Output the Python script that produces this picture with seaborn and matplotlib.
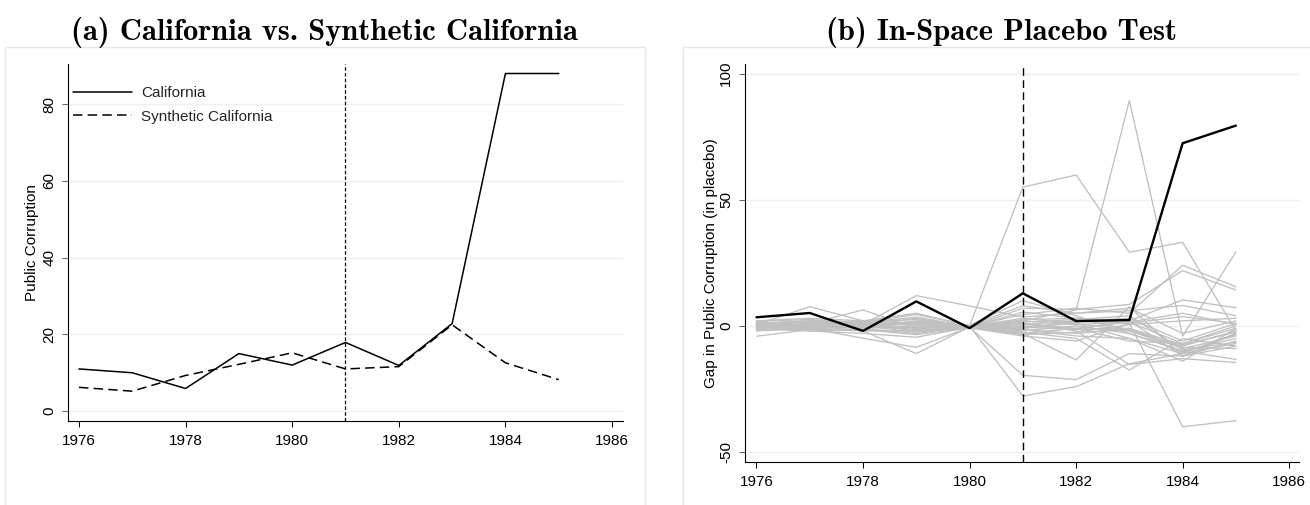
import matplotlib
matplotlib.use("Agg")
import matplotlib.pyplot as plt
import seaborn as sns
import pandas as pd
from matplotlib.patches import Rectangle

# ---------------- data ----------------
years = [1976, 1977, 1978, 1979, 1980, 1981, 1982, 1983, 1984, 1985]
x_ticks = [1976, 1978, 1980, 1982, 1984, 1986]
left_yticks = [0, 20, 40, 60, 80]
right_yticks = [-50, 0, 50, 100]
treat_year = 1981

california = [11.0, 10.0, 5.9, 15.0, 12.0, 17.9, 11.9, 22.8, 88.0, 88.0]
synthetic = [6.2, 5.2, 9.3, 12.2, 15.2, 11.0, 11.6, 22.5, 12.6, 8.2]

ca_gap = [3.4, 5.1, -2.0, 9.7, -0.9, 12.9, 1.9, 2.3, 72.4, 79.4]

placebo_01 = [0.5, 1.0, -0.5, 1.5, 0.0, 55.0, 59.8, 29.2, 33.1, -2.0]
placebo_02 = [-0.5, 0.5, 1.0, -1.0, -0.3, 2.0, 6.3, 89.3, -4.0, 29.3]
placebo_03 = [-4.1, -1.5, 0.5, -2.0, -0.5, -19.6, -21.3, -11.0, -12.0, -6.0]
placebo_04 = [1.0, -0.5, -1.0, -3.0, 0.0, -27.8, -24.1, -15.0, -11.0, -3.0]
placebo_05 = [0.8, 2.0, 1.5, 1.2, -0.4, -1.0, 2.0, 1.0, -40.0, -37.6]
placebo_06 = [1.0, 2.0, 0.5, 12.0, 7.9, 3.5, 5.0, 6.0, 8.1, 4.0]
placebo_07 = [0.5, 7.6, 2.0, 1.0, -0.5, 7.0, 6.5, 8.5, 21.9, 14.2]
placebo_08 = [-1.0, 1.0, 6.3, -1.0, -0.2, 4.5, 7.0, 5.0, 24.0, 15.5]
placebo_09 = [0.0, -1.0, -4.9, -8.5, -0.6, -3.0, -13.5, 7.6, -12.0, -3.0]
placebo_10 = [1.5, 0.0, -2.0, -11.0, -0.4, -2.5, -5.0, -17.5, -5.0, -8.0]
placebo_11 = [-1.5, -1.0, 1.5, 4.5, 0.2, 10.0, 4.0, -3.0, -10.0, -13.3]
placebo_12 = [-0.5, 0.5, -1.0, 0.0, -0.3, 1.0, -2.0, -15.3, -13.0, -14.5]
placebo_13 = [1.0, 1.5, 0.0, 3.0, -0.5, 5.5, 3.0, 2.0, 10.3, 7.2]
placebo_14 = [-2.0, -1.0, 0.0, -2.5, -0.8, -4.0, -6.0, 1.0, 3.7, 1.0]
placebo_15 = [0.2, 0.8, -0.5, 2.0, -0.2, 3.0, 1.0, -2.0, -8.0, -2.0]
placebo_16 = [-0.8, -0.3, 0.5, -1.5, -0.6, -1.5, -3.0, -1.0, -9.0, -4.0]
placebo_17 = [0.6, 1.2, 1.0, 0.5, -0.1, 2.0, 0.5, 1.5, -7.0, -1.0]
placebo_18 = [-1.2, -2.0, -1.5, -3.5, -0.7, -2.0, 0.0, -3.0, -10.0, -5.0]
placebo_19 = [0.3, -0.5, 0.8, 1.0, -0.4, 0.5, 2.0, 3.0, -6.0, 1.0]
placebo_20 = [-0.3, 0.3, -0.2, -0.5, -0.3, -0.5, 1.0, -5.0, -11.0, -7.0]
placebo_21 = [1.8, 2.5, 1.2, 3.5, -0.2, 1.0, -1.0, -2.0, -8.5, -9.0]
placebo_22 = [-1.5, -1.2, -2.0, -2.0, -0.5, -3.5, -2.5, 0.5, 2.0, 3.0]
placebo_23 = [0.0, 0.0, 0.3, 0.5, -0.4, -0.5, -1.5, -1.0, -7.5, -2.5]
placebo_24 = [2.0, 3.0, 2.0, 5.0, 0.0, 8.0, 5.0, 7.0, -3.0, 2.0]
placebo_25 = [-0.5, -2.0, -3.0, -4.5, -0.6, -1.0, 1.5, 2.0, -12.0, -8.0]
placebo_26 = [0.8, 0.0, 1.8, 2.5, -0.3, -1.5, -4.0, -5.0, -14.0, -1.0]
placebo_27 = [-1.0, 0.2, -0.8, 1.5, -0.5, 1.5, 2.5, 4.0, -9.5, -6.5]
placebo_28 = [0.4, 1.5, -0.3, -0.5, -0.2, -3.0, -1.0, -6.0, -7.0, 0.0]
placebo_29 = [-0.2, -0.8, 0.6, 1.0, -0.4, 0.0, -1.0, 1.5, 5.0, 0.5]
placebo_30 = [1.2, 0.5, 0.0, 1.8, -0.3, 2.5, 3.0, -1.5, -10.5, -3.5]

placebos = [placebo_01, placebo_02, placebo_03, placebo_04, placebo_05,
            placebo_06, placebo_07, placebo_08, placebo_09, placebo_10,
            placebo_11, placebo_12, placebo_13, placebo_14, placebo_15,
            placebo_16, placebo_17, placebo_18, placebo_19, placebo_20,
            placebo_21, placebo_22, placebo_23, placebo_24, placebo_25,
            placebo_26, placebo_27, placebo_28, placebo_29, placebo_30]

title_a = "(a) California vs. Synthetic California"
title_b = "(b) In-Space Placebo Test"
ylabel_a = "Public Corruption"
ylabel_b = "Gap in Public Corruption (in placebo)"

# ---------------- style ----------------
sns.set_theme(style="white")
plt.rcParams["font.family"] = ["Liberation Sans", "DejaVu Sans"]
plt.rcParams["axes.unicode_minus"] = False

W, H = 1310, 505
fig = plt.figure(figsize=(W / 100, H / 100), dpi=100)


def rect(x0, y0, x1, y1):
    return [x0 / W, 1 - y1 / H, (x1 - x0) / W, (y1 - y0) / H]


axL = fig.add_axes(rect(68.3, 64.3, 622.7, 421.3))
axR = fig.add_axes(rect(745.3, 64.3, 1299.3, 462))

# light graph-region frames
frame_col = "#e3e9eb"
fig.add_artist(Rectangle((5.3 / W, -0.02), (645 - 5.3) / W, 1 - 47.3 / H + 0.02,
                         transform=fig.transFigure, fill=False, ec=frame_col, lw=1.0))
fig.add_artist(Rectangle((682.7 / W, -0.02), (1320 - 682.7) / W, 1 - 46.7 / H + 0.02,
                         transform=fig.transFigure, fill=False, ec=frame_col, lw=1.0))

# ---------------- left panel ----------------
dfL = pd.DataFrame({"year": years, "California": california,
                    "Synthetic California": synthetic})
sns.lineplot(data=dfL, x="year", y="California", ax=axL, color="black",
             lw=1.1, label="California")
sns.lineplot(data=dfL, x="year", y="Synthetic California", ax=axL, color="black",
             lw=1.1, linestyle=(0, (6.2, 3.4)), label="Synthetic California")
axL.axvline(treat_year, color="black", lw=0.9, linestyle=(0, (2.8, 1.8)))
axL.set_xlim(1975.8, 1986.2)
axL.set_ylim(-2.65, 90.4)
axL.set_yticks(left_yticks)
axL.set_ylabel(ylabel_a, fontsize=11)
axL.yaxis.set_label_coords(-0.052, 0.5)
axL.legend(loc="upper left", bbox_to_anchor=(0.008, 0.938), frameon=False,
           fontsize=11, handlelength=3.9, handletextpad=0.57, labelspacing=0.6,
           borderpad=0, borderaxespad=0)

# ---------------- right panel ----------------
rows = []
for i, series in enumerate(placebos):
    for yr, v in zip(years, series):
        rows.append({"unit": i, "year": yr, "gap": v})
dfP = pd.DataFrame(rows)
sns.lineplot(data=dfP, x="year", y="gap", units="unit", estimator=None,
             color="#c0c0c0", lw=0.95, ax=axR, legend=False)
sns.lineplot(x=years, y=ca_gap, color="black", lw=1.7, ax=axR)
axR.axvline(treat_year, color="black", lw=1.0, linestyle=(0, (5.5, 3.2)))
axR.set_xlim(1975.79, 1986.19)
axR.set_ylim(-53.97, 103.7)
axR.set_yticks(right_yticks)
axR.set_ylabel(ylabel_b, fontsize=11)
axR.yaxis.set_label_coords(-0.050, 0.5)

# ---------------- common axis styling ----------------
for ax in (axL, axR):
    sns.despine(ax=ax)
    for s in ("left", "bottom"):
        ax.spines[s].set_color("black")
        ax.spines[s].set_linewidth(0.8)
    ax.set_xticks(x_ticks)
    ax.set_xlabel("")
    ax.set_axisbelow(True)
    ax.yaxis.grid(True, color="#eaf2f3", lw=1.0)
    ax.xaxis.grid(False)
    ax.tick_params(axis="x", bottom=True, direction="out", length=4.3, width=0.75,
                   color="black", pad=5.0, labelsize=11, labelcolor="black")
    ax.tick_params(axis="y", left=True, direction="out", length=4.1, width=0.75,
                   color="#666666", pad=4.5, labelsize=11, labelrotation=90,
                   labelcolor="black")
    for lab in ax.get_yticklabels():
        lab.set_va("center")
    ax.yaxis.label.set_color("black")

# ---------------- titles ----------------
fig.text(324 / W, 1 - 39.5 / H, title_a, family=["cmb10", "DejaVu Serif"],
         fontsize=22, ha="center", va="baseline", color="black")
fig.text(1001 / W, 1 - 39.5 / H, title_b, family=["cmb10", "DejaVu Serif"],
         fontsize=22, ha="center", va="baseline", color="black")

fig.savefig("out.png", dpi=100)
